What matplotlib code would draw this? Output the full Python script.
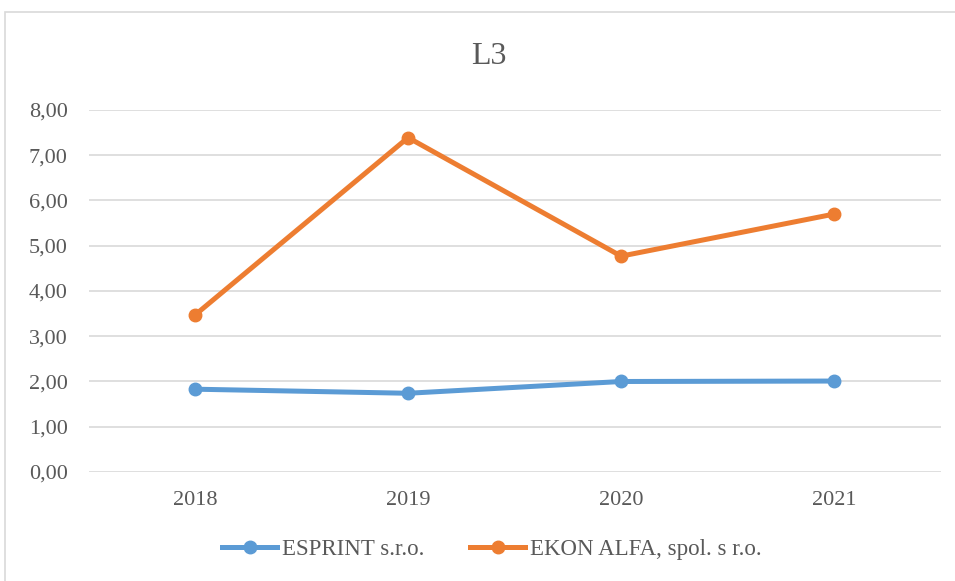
import matplotlib.pyplot as plt
from matplotlib.patches import Rectangle
from matplotlib.ticker import FuncFormatter

years = ["2018", "2019", "2020", "2021"]
esprint = [1.83, 1.74, 2.00, 2.01]
ekon = [3.47, 7.39, 4.77, 5.70]
labels = ["ESPRINT s.r.o.", "EKON ALFA, spol. s r.o."]

plt.rcParams['font.family'] = ['Liberation Serif', 'DejaVu Serif']
txt = '#595959'

fig = plt.figure(figsize=(9.55, 5.81), dpi=100)
ax = fig.add_axes([0.0927, 0.1876, 0.8923, 0.6231])

# chart frame
fig.patches.append(Rectangle((5 / 955, -0.05), 1.0, 1 - 12 / 581 + 0.05,
                             transform=fig.transFigure, fill=False,
                             edgecolor='#D9D9D9', linewidth=1.2))

x = range(len(years))
ax.plot(x, esprint, color='#5B9BD5', lw=3.6, marker='o', ms=9, label=labels[0], zorder=3)
ax.plot(x, ekon, color='#ED7D31', lw=3.6, marker='o', ms=9, label=labels[1], zorder=3)

ax.set_xlim(-0.5, 3.5)
ax.set_ylim(0, 8)
ax.set_yticks(range(0, 9))
ax.yaxis.set_major_formatter(FuncFormatter(lambda v, p: f"{v:.2f}".replace('.', ',')))
ax.set_xticks(list(x))
ax.set_xticklabels(years)
ax.grid(axis='y', color='#D9D9D9', lw=1.2)
ax.set_axisbelow(True)
for s in ax.spines.values():
    s.set_visible(False)
ax.tick_params(length=0, labelsize=16, colors=txt)
ax.tick_params(axis='y', pad=15)
ax.tick_params(axis='x', pad=14)

fig.text(0.512, 0.902, "L3", ha='center', va='center', fontsize=23, color=txt)

leg = fig.legend(loc='center', bbox_to_anchor=(0.515, 0.055), ncol=2, frameon=False,
                 fontsize=16.5, handlelength=2.4, columnspacing=2.0, handletextpad=0.2)
for t in leg.get_texts():
    t.set_color(txt)

fig.savefig("out.png", dpi=100)
